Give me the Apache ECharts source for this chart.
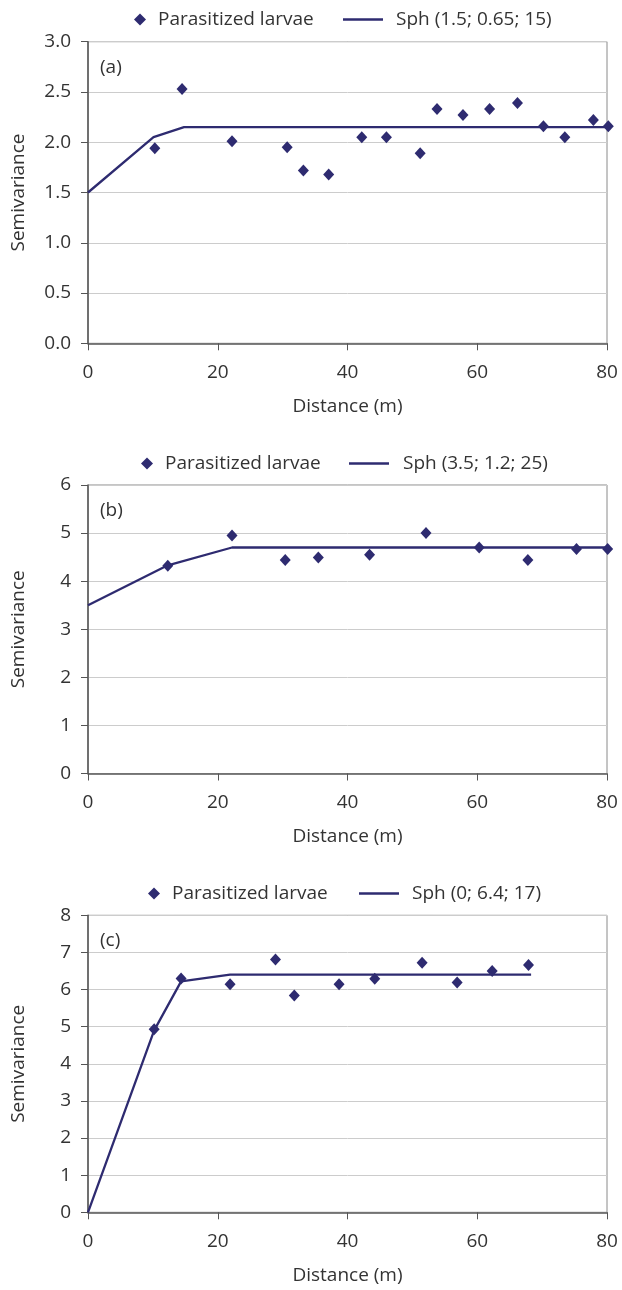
<!DOCTYPE html>
<html>
<head>
<meta charset="utf-8">
<script src="https://cdn.jsdelivr.net/npm/echarts@6/dist/echarts.min.js"></script>
<style>
  html, body { margin: 0; padding: 0; background: #fff; }
  #main { width: 622px; height: 1290px; }
</style>
</head>
<body>
<div id="main"></div>
<script>
// panel (a)
const distA = [10.3, 14.5, 22.2, 30.7, 33.2, 37.1, 42.2, 46.0, 51.2, 53.8, 57.8, 61.9, 66.2, 70.2, 73.5, 77.9, 80.2]
const semiA = [1.94, 2.53, 2.01, 1.95, 1.72, 1.68, 2.05, 2.05, 1.89, 2.33, 2.27, 2.33, 2.39, 2.16, 2.05, 2.22, 2.16]
const modelDistA = [0, 10.1, 14.8, 80]
const modelSemiA = [1.5, 2.05, 2.15, 2.15]

// panel (b)
const distB = [12.3, 22.2, 30.4, 35.5, 43.4, 52.1, 60.3, 67.8, 75.3, 80.1]
const semiB = [4.32, 4.95, 4.44, 4.49, 4.55, 5.0, 4.70, 4.44, 4.67, 4.67]
const modelDistB = [0, 12.3, 22.2, 80]
const modelSemiB = [3.5, 4.33, 4.7, 4.7]

// panel (c)
const distC = [10.2, 14.35, 21.9, 28.9, 31.8, 38.7, 44.2, 51.5, 56.9, 62.3, 67.9]
const semiC = [4.93, 6.30, 6.14, 6.81, 5.84, 6.14, 6.29, 6.72, 6.19, 6.50, 6.66]
const modelDistC = [0, 10.2, 14.35, 21.9, 68.3]
const modelSemiC = [0, 4.9, 6.22, 6.4, 6.4]

const panelTags = ['(a)', '(b)', '(c)']
const modelNames = ['Sph (1.5; 0.65; 15)', 'Sph (3.5; 1.2; 25)', 'Sph (0; 6.4; 17)']
const pointName = 'Parasitized larvae'
const xTicks = { min: 0, max: 80, interval: 20 }
const yTicks = [
  { min: 0, max: 3, interval: 0.5, digits: 1 },
  { min: 0, max: 6, interval: 1, digits: 0 },
  { min: 0, max: 8, interval: 1, digits: 0 }
]

const navy = '#2e2b70'
const textColor = '#333333'
const font = 'Open Sans'
const fs = 19

const zip = (xs, ys) => xs.map((x, i) => [x, ys[i]])

const panels = [
  { pts: zip(distA, semiA), model: zip(modelDistA, modelSemiA), top: 41.7, height: 301.6, legendTop: 5, legendLeft: [129, 338], lineW: 40 },
  { pts: zip(distB, semiB), model: zip(modelDistB, modelSemiB), top: 485, height: 288.5, legendTop: 449, legendLeft: [136, 344], lineW: 42 },
  { pts: zip(distC, semiC), model: zip(modelDistC, modelSemiC), top: 915.3, height: 297, legendTop: 879, legendLeft: [143, 354], lineW: 40 }
]

const chart = echarts.init(document.getElementById('main'))

const grid = []
const xAxis = []
const yAxis = []
const series = []
const legend = []
const title = []

panels.forEach((p, i) => {
  grid.push({ left: 88, right: 15, top: p.top, height: p.height, show: true, borderColor: '#8a8a8a', borderWidth: 1 })
  xAxis.push({
    type: 'value', gridIndex: i, min: xTicks.min, max: xTicks.max, interval: xTicks.interval,
    name: 'Distance (m)', nameLocation: 'middle', nameGap: 54,
    nameTextStyle: { color: textColor, fontSize: fs, fontFamily: font },
    axisLine: { show: true, onZero: false, lineStyle: { color: '#555', width: 1.5 } },
    axisTick: { show: true, inside: false, length: 7, lineStyle: { color: '#555' } },
    axisLabel: { color: textColor, fontSize: fs, fontFamily: font, margin: 20 },
    splitLine: { show: false }
  })
  const yt = yTicks[i]
  yAxis.push({
    type: 'value', gridIndex: i, min: yt.min, max: yt.max, interval: yt.interval,
    name: 'Semivariance', nameLocation: 'middle', nameGap: 60,
    nameTextStyle: { color: textColor, fontSize: fs, fontFamily: font },
    axisLine: { show: true, onZero: false, lineStyle: { color: '#555', width: 1.5 } },
    axisTick: { show: true, inside: false, length: 7, lineStyle: { color: '#555' } },
    axisLabel: { color: textColor, fontSize: fs, fontFamily: font, margin: 17, formatter: v => v.toFixed(yt.digits) },
    splitLine: { show: true, lineStyle: { color: '#cccccc', width: 1 } }
  })
  series.push({
    name: pointName, type: 'scatter', xAxisIndex: i, yAxisIndex: i, clip: false,
    symbol: 'diamond', symbolSize: [11, 12], itemStyle: { color: navy, opacity: 1 },
    data: p.pts, z: 3
  })
  series.push({
    name: modelNames[i], type: 'line', xAxisIndex: i, yAxisIndex: i,
    symbol: 'none', lineStyle: { color: navy, width: 2.3 }, itemStyle: { color: navy },
    data: p.model, z: 2
  })
  legend.push({
    data: [{ name: pointName, icon: 'diamond' }], left: p.legendLeft[0], top: p.legendTop,
    itemWidth: 12, itemHeight: 12,
    textStyle: { color: textColor, fontSize: fs, fontFamily: font, padding: [0, 0, 0, 7] }
  })
  legend.push({
    data: [{ name: modelNames[i], icon: 'path://M0,0H40V2.5H0Z' }], left: p.legendLeft[1], top: p.legendTop,
    itemWidth: p.lineW, itemHeight: 2.5,
    textStyle: { color: textColor, fontSize: fs, fontFamily: font, padding: [0, 0, 0, 8] }
  })
  title.push({
    text: panelTags[i], left: 95, top: p.top + 11,
    textStyle: { color: textColor, fontSize: fs, fontWeight: 'normal', fontFamily: font }
  })
})

chart.setOption({
  animation: false,
  title, grid, xAxis, yAxis, series, legend
})
</script>
</body>
</html>
